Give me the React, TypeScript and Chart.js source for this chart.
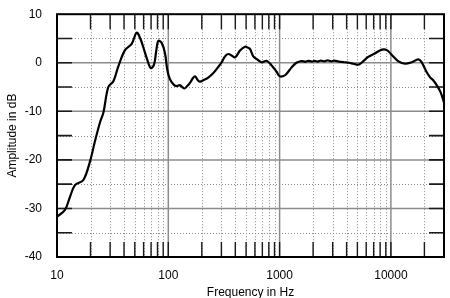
import React, { useEffect, useRef } from "react";
import { Chart, registerables } from "chart.js";

Chart.register(...registerables);

const freqs = [
  10, 11.8, 13, 14.5, 17.2, 19.8, 21.9, 24.4, 26.1, 28.9, 32.1, 35.5, 40.8, 46.9, 52, 56, 59.6, 65,
  69.6, 74.4, 78, 81.4, 87.2, 93.3, 98, 103.5, 113, 120, 127, 139, 148, 157, 166, 174, 183, 193,
  210, 227, 254, 280, 300, 323, 346, 370, 398, 441, 489, 520, 543, 580, 620, 689, 763, 845, 936,
  1005, 1115, 1200, 1277, 1415, 1570, 1700, 1800, 1950, 2070, 2200, 2350, 2530, 2700, 2900, 3100,
  3400, 3800, 4200, 4600, 5100, 5450, 6250, 7150, 8300, 9200, 10200, 11700, 13400, 15400, 17600,
  18800, 20800, 22500, 24000, 25600, 28000, 30000,
];
const levels = [
  -31.7, -30.3, -27.8, -25.2, -24.2, -20.3, -16.2, -12.2, -10.3, -5.0, -3.8, -0.8, 2.6, 3.9, 6.2, 5.0,
  3.2, 0.5, -1.1, -0.4, 2.5, 4.5, 4.1, 2.0, -1.5, -3.4, -4.6, -4.8, -4.6, -5.3, -4.8, -4.1, -3.2,
  -2.8, -3.5, -3.9, -3.5, -3.1, -2.1, -0.9, 0.0, 1.3, 1.8, 1.5, 1.1, 2.5, 3.3, 3.1, 2.8, 1.3, 0.8,
  0.1, 0.4, -0.5, -1.8, -2.8, -2.6, -1.8, -1.0, 0.0, 0.35, 0.2, 0.4, 0.25, 0.4, 0.25, 0.45, 0.3, 0.5,
  0.3, 0.45, 0.25, 0.1, 0.0, -0.2, -0.4, 0.0, 1.2, 1.9, 2.7, 2.6, 1.6, 0.3, -0.2, 0.1, 0.7, 0.2, -1.8,
  -3.0, -3.6, -4.5, -6.1, -8.2,
];

const xTicks = [
  10, 20, 30, 40, 50, 60, 70, 80, 90, 100, 200, 300, 400, 500, 600, 700, 800, 900, 1000, 2000,
  3000, 4000, 5000, 6000, 7000, 8000, 9000, 10000, 20000, 30000,
];
const xLabeled = [10, 100, 1000, 10000];
const yMajor = [-40, -30, -20, -10, 0, 10];
const yMinor = [-35, -25, -15, -5, 5];
const X_MIN = 10;
const X_MAX = 30000;
const Y_MIN = -40;
const Y_MAX = 10;

const FONT = "'Liberation Sans', Arial, sans-serif";

const gridPlugin = {
  id: "customGrid",
  beforeDatasetsDraw(chart: any) {
    const { ctx, chartArea, scales } = chart;
    const { left, right, top, bottom } = chartArea;
    const xs = scales.x;
    const ys = scales.y;
    ctx.save();
    ctx.setLineDash([1, 2]);
    ctx.strokeStyle = "#8a8a8a";
    ctx.lineWidth = 1;
    for (const v of yMinor) {
      const y = Math.round(ys.getPixelForValue(v)) + 0.5;
      ctx.beginPath();
      ctx.moveTo(left, y);
      ctx.lineTo(right, y);
      ctx.stroke();
    }
    for (const v of xTicks) {
      if (xLabeled.includes(v) || v === X_MIN || v === X_MAX) continue;
      const x = Math.round(xs.getPixelForValue(v)) + 0.5;
      ctx.beginPath();
      ctx.moveTo(x, top);
      ctx.lineTo(x, bottom);
      ctx.stroke();
    }
    ctx.setLineDash([]);
    ctx.strokeStyle = "#8c8c8c";
    ctx.lineWidth = 1.5;
    for (const v of yMajor) {
      if (v === Y_MIN || v === Y_MAX) continue;
      const y = ys.getPixelForValue(v);
      ctx.beginPath();
      ctx.moveTo(left, y);
      ctx.lineTo(right, y);
      ctx.stroke();
    }
    for (const v of xLabeled) {
      if (v === X_MIN) continue;
      const x = xs.getPixelForValue(v);
      ctx.beginPath();
      ctx.moveTo(x, top);
      ctx.lineTo(x, bottom);
      ctx.stroke();
    }
    ctx.strokeStyle = "#1a1a1a";
    ctx.lineWidth = 1.6;
    const tl = 15;
    for (const v of [...yMajor, ...yMinor]) {
      if (v === Y_MIN || v === Y_MAX) continue;
      const y = ys.getPixelForValue(v);
      ctx.beginPath();
      ctx.moveTo(left, y);
      ctx.lineTo(left + tl, y);
      ctx.moveTo(right - tl, y);
      ctx.lineTo(right, y);
      ctx.stroke();
    }
    ctx.lineWidth = 1.4;
    for (const v of xTicks) {
      if (v === X_MIN || v === X_MAX) continue;
      const x = xs.getPixelForValue(v);
      ctx.beginPath();
      ctx.moveTo(x, top);
      ctx.lineTo(x, top + tl);
      ctx.moveTo(x, bottom - tl);
      ctx.lineTo(x, bottom);
      ctx.stroke();
    }
    ctx.restore();
  },
  afterDatasetsDraw(chart: any) {
    const { ctx, chartArea } = chart;
    const { left, right, top, bottom } = chartArea;
    ctx.save();
    ctx.strokeStyle = "#000";
    ctx.lineWidth = 2;
    ctx.strokeRect(left, top, right - left, bottom - top);
    ctx.restore();
  },
};

export default function App() {
  const ref = useRef<HTMLCanvasElement | null>(null);
  useEffect(() => {
    if (!ref.current) return;
    const chart = new Chart(ref.current, {
      type: "line",
      data: {
        datasets: [
          {
            data: freqs.map((f, i) => ({ x: f, y: levels[i] })),
            borderColor: "#000",
            borderWidth: 2.2,
            pointRadius: 0,
            tension: 0.35,
            fill: false,
          },
        ],
      },
      options: {
        animation: false,
        responsive: false,
        maintainAspectRatio: false,
        layout: { padding: { top: 8, right: 6, left: 0, bottom: 0 } },
        plugins: { legend: { display: false }, tooltip: { enabled: false } },
        scales: {
          x: {
            type: "logarithmic",
            min: X_MIN,
            max: X_MAX,
            grid: { display: false },
            border: { display: false },
            afterBuildTicks: (s: any) => {
              s.ticks = xTicks.map((v) => ({ value: v }));
            },
            afterFit: (s: any) => {
              s.height = 41;
            },
            ticks: {
              autoSkip: false,
              maxRotation: 0,
              minRotation: 0,
              padding: 3,
              color: "#000",
              font: { family: FONT, size: 12 },
              callback: (v: any) => (xLabeled.includes(Number(v)) ? String(v) : ""),
            },
            title: {
              display: true,
              text: "Frequency in Hz",
              color: "#000",
              font: { family: FONT, size: 12 },
              padding: { top: 0, bottom: -2 },
            },
          },
          y: {
            type: "linear",
            min: Y_MIN,
            max: Y_MAX,
            grid: { display: false },
            border: { display: false },
            afterFit: (s: any) => {
              s.width = 57;
            },
            ticks: {
              stepSize: 10,
              padding: 7,
              color: "#000",
              font: { family: FONT, size: 12 },
            },
            title: {
              display: true,
              text: "Amplitude in dB",
              color: "#000",
              font: { family: FONT, size: 12 },
              padding: { top: 5, bottom: 0 },
            },
          },
        },
      },
      plugins: [gridPlugin],
    });
    return () => chart.destroy();
  }, []);
  return (
    <div style={{ position: "absolute", left: 0, top: 0, width: 450, height: 298, background: "#fff" }}>
      <canvas ref={ref} width={450} height={298} style={{ width: 450, height: 298, display: "block" }} />
    </div>
  );
}
